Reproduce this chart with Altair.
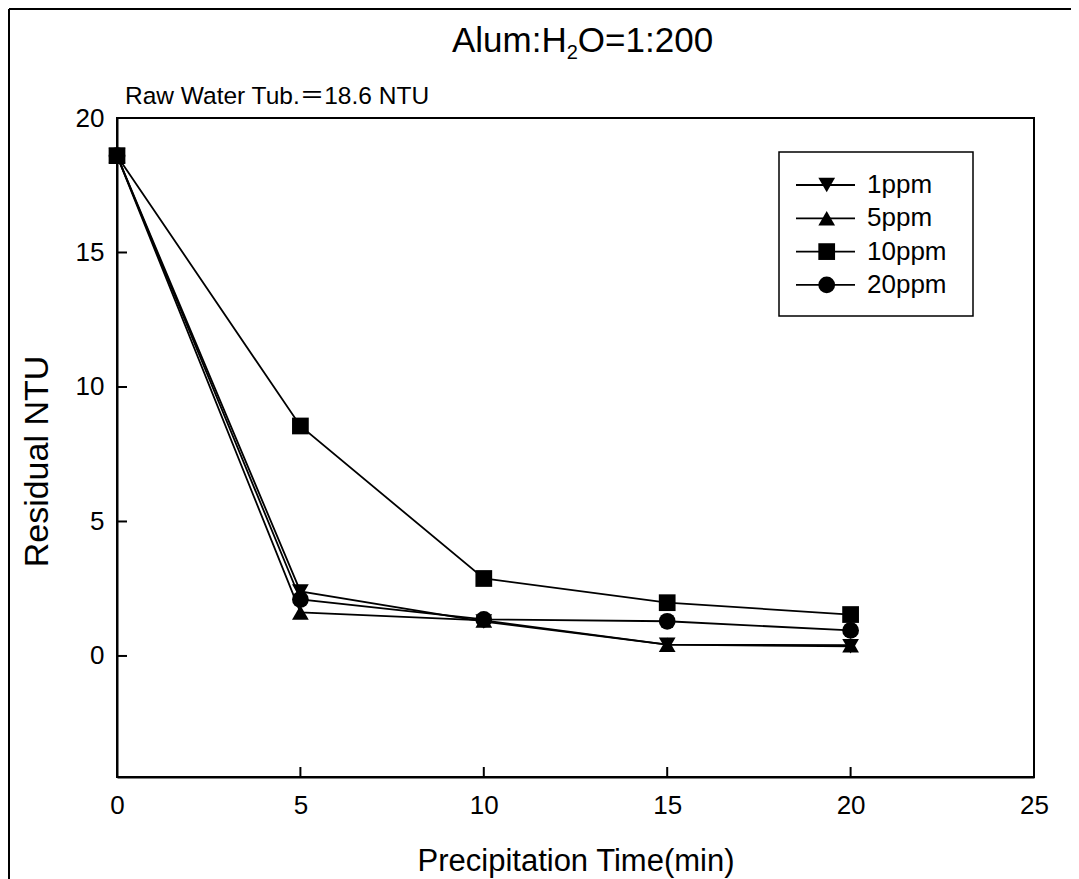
import altair as alt
import pandas as pd

# ---- data ----
times = [0, 5, 10, 15, 20]
series_names = ["1ppm", "5ppm", "10ppm", "20ppm"]
ppm1 = [18.6, 2.40, 1.28, 0.42, 0.36]
ppm5 = [18.6, 1.62, 1.32, 0.42, 0.40]
ppm10 = [18.6, 8.55, 2.88, 1.98, 1.54]
ppm20 = [18.6, 2.10, 1.36, 1.29, 0.95]
x_ticks = [0, 5, 10, 15, 20, 25]
y_ticks = [0, 5, 10, 15, 20]

shapes = ["triangle-down", "triangle-up", "square", "circle"]
sizes = [280, 280, 220, 260]

rows = []
for name, vals in zip(series_names, [ppm1, ppm5, ppm10, ppm20]):
    for t, v in zip(times, vals):
        rows.append({"series": name, "time": t, "ntu": v})
df = pd.DataFrame(rows)

W, H = 917, 659
FONT = "Liberation Sans, Arial, Noto Sans CJK SC"

xs = alt.Scale(domain=[0, 25], nice=False, zero=False)
ys = alt.Scale(domain=[-4.5, 20], nice=False, zero=False)

xa = alt.Axis(values=x_ticks, title="Precipitation Time(min)", grid=False,
              ticks=False, tickSize=0, labelPadding=15, labelFontSize=26,
              labelFlush=False, labelOverlap=False,
              labelFont=FONT, titleFont=FONT, titleFontSize=31,
              titleFontWeight="normal", titleBaseline="alphabetic",
              titleY=93, domainColor="black", domainWidth=2,
              labelColor="black", titleColor="black")
ya = alt.Axis(values=y_ticks, title="Residual NTU", grid=False,
              ticks=False, tickSize=0, labelPadding=13, labelFontSize=26,
              labelFlush=False, labelOverlap=False,
              labelFont=FONT, titleFont=FONT, titleFontSize=34,
              titleFontWeight="normal", titleBaseline="alphabetic",
              titleX=-70, titleY=343, domainColor="black", domainWidth=2,
              labelColor="black", titleColor="black")

base = alt.Chart(df)

lines = base.mark_line(color="black", strokeWidth=1.8).encode(
    x=alt.X("time:Q", scale=xs, axis=xa, title="Precipitation Time(min)"),
    y=alt.Y("ntu:Q", scale=ys, axis=ya, title="Residual NTU"),
    detail="series:N",
)

points = base.mark_point(filled=True, opacity=1, color="black").encode(
    x=alt.X("time:Q", scale=xs, axis=xa, title="Precipitation Time(min)"),
    y=alt.Y("ntu:Q", scale=ys, axis=ya, title="Residual NTU"),
    shape=alt.Shape("series:N", scale=alt.Scale(domain=series_names, range=shapes), legend=None),
    size=alt.Size("series:N", scale=alt.Scale(domain=series_names, range=sizes), legend=None),
)

# inward ticks
ytick_df = pd.DataFrame({"v": y_ticks})
xtick_df = pd.DataFrame({"v": x_ticks})
yticks = alt.Chart(ytick_df).mark_rule(color="black", strokeWidth=2).encode(
    y=alt.Y("v:Q", scale=ys, axis=ya, title="Residual NTU"), x=alt.value(0), x2=alt.value(10))
xticks = alt.Chart(xtick_df).mark_rule(color="black", strokeWidth=2).encode(
    x=alt.X("v:Q", scale=xs, axis=xa, title="Precipitation Time(min)"),
    y=alt.value(H), y2=alt.value(H - 10))

# legend (manual, lines through markers)
LX0, LX1, LSYM, LTXT = 679, 738, 709.7, 750
LY0, LDY = 67, 33.3
leg_df = pd.DataFrame({"series": series_names, "row": list(range(len(series_names)))})
leg_df["ly"] = LY0 + leg_df["row"] * LDY
leg_box = alt.Chart(pd.DataFrame({"a": [0]})).mark_rect(
    fill="white", stroke="black", strokeWidth=1.5).encode(
    x=alt.value(662), x2=alt.value(856), y=alt.value(34), y2=alt.value(198))
leg_base = alt.Chart(leg_df)
leg_lines = leg_base.mark_rule(color="black", strokeWidth=1.8).encode(
    x=alt.value(LX0), x2=alt.value(LX1), y=alt.Y("ly:Q", scale=None, axis=None))
leg_pts = leg_base.mark_point(filled=True, opacity=1, color="black").encode(
    x=alt.value(LSYM), y=alt.Y("ly:Q", scale=None, axis=None),
    shape=alt.Shape("series:N", scale=alt.Scale(domain=series_names, range=shapes), legend=None),
    size=alt.Size("series:N", scale=alt.Scale(domain=series_names, range=sizes), legend=None),
)
leg_txt = leg_base.mark_text(align="left", baseline="middle", font=FONT, fontSize=26,
                             color="black").encode(
    x=alt.value(LTXT), y=alt.Y("ly:Q", scale=None, axis=None), text="series:N")

# title with subscript
one = pd.DataFrame({"a": [0]})
TX, TY, TFS = 335, -66, 35
t1 = alt.Chart(one).mark_text(align="left", baseline="alphabetic", font=FONT, fontSize=TFS,
                              color="black", text="Alum:H").encode(x=alt.value(TX), y=alt.value(TY))
t2 = alt.Chart(one).mark_text(align="left", baseline="alphabetic", font=FONT, fontSize=20,
                              color="black", text="2").encode(
    x=alt.value(TX + 3.278 * TFS), y=alt.value(TY + 7))
t3 = alt.Chart(one).mark_text(align="left", baseline="alphabetic", font=FONT, fontSize=TFS,
                              color="black", text="O=1:200").encode(
    x=alt.value(TX + 3.278 * TFS + 0.556 * 20), y=alt.value(TY))

note = alt.Chart(one).mark_text(align="left", baseline="middle", font=FONT, fontSize=24.5,
                                color="black", text="Raw Water Tub.＝18.6 NTU").encode(
    x=alt.value(8), y=alt.value(-21))

# outer frame (cropped figure border)
frame_v = alt.Chart(one).mark_rule(color="black", strokeWidth=2).encode(
    x=alt.value(-108), y=alt.value(-109), y2=alt.value(900))
frame_h = alt.Chart(one).mark_rule(color="black", strokeWidth=2).encode(
    x=alt.value(-108), x2=alt.value(1100), y=alt.value(-109))

chart = alt.layer(
    lines, points, yticks, xticks, leg_box, leg_lines, leg_pts, leg_txt,
    t1, t2, t3, note, frame_v, frame_h
).properties(
    width=W, height=H,
    padding={"left": 109, "top": 110, "right": 37, "bottom": 103},
    autosize=alt.AutoSizeParams(type="none"),
    background="white",
).configure_view(stroke="black", strokeWidth=2)

chart.save("out.html", embed_options={"renderer": "svg", "actions": False})
